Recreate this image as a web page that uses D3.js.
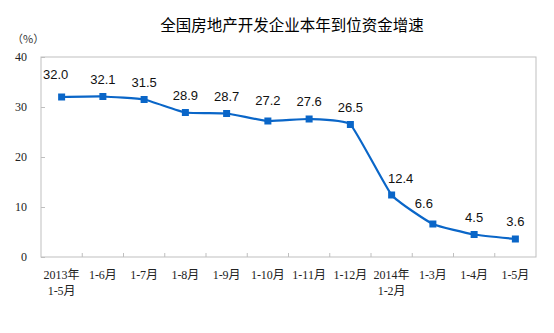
<!DOCTYPE html>
<html>
<head>
<meta charset="utf-8">
<script src="https://cdn.jsdelivr.net/npm/d3@7"></script>
<style>
  html, body { margin: 0; padding: 0; background: #fff; }
  svg { display: block; }
</style>
</head>
<body>
<svg id="chart" width="554" height="333"></svg>
<script>
// Period labels (two lines where the year is shown)
const categories = [
  ["2013年", "1-5月"], ["1-6月"], ["1-7月"], ["1-8月"], ["1-9月"], ["1-10月"],
  ["1-11月"], ["1-12月"], ["2014年", "1-2月"], ["1-3月"], ["1-4月"], ["1-5月"]
];
// Growth of funds in place (%)
const values = [32.0, 32.1, 31.5, 28.9, 28.7, 27.2, 27.6, 26.5, 12.4, 6.6, 4.5, 3.6];
const yTicks = [0, 10, 20, 30, 40];

const svg = d3.select("#chart");
const margin = { left: 41, right: 18, top: 57, bottom: 76 };
const W = 554, H = 333;
const x0 = margin.left, x1 = W - margin.right;
const y0 = H - margin.bottom, y1 = margin.top;

const x = d3.scaleBand().domain(d3.range(categories.length)).range([x0, x1]);
const y = d3.scaleLinear().domain([0, 40]).range([y0, y1]);

const serif = "'Liberation Serif','DejaVu Serif','Noto Sans CJK SC',serif";
const sans = "'Liberation Sans',Arial,'Noto Sans CJK SC',sans-serif";

// Title
svg.append("text")
  .attr("x", 292).attr("y", 31)
  .attr("text-anchor", "middle")
  .attr("font-family", "'Noto Sans CJK SC',sans-serif")
  .attr("font-size", 15.5)
  .attr("fill", "#000")
  .text("全国房地产开发企业本年到位资金增速");

// Unit
svg.append("text")
  .attr("x", 12).attr("y", 43)
  .attr("font-family", "'Noto Sans CJK SC',sans-serif")
  .attr("font-size", 11)
  .attr("fill", "#333")
  .text("（%）");

// Plot frame
svg.append("rect")
  .attr("x", x0).attr("y", y1)
  .attr("width", x1 - x0).attr("height", y0 - y1)
  .attr("fill", "none").attr("stroke", "#BFBFBF").attr("stroke-width", 1);

// Y axis
const yAxis = svg.append("g")
  .attr("transform", `translate(${x0},0)`)
  .call(d3.axisLeft(y).tickValues(yTicks).tickSizeInner(-4).tickSizeOuter(0).tickPadding(14));
yAxis.select(".domain").remove();
yAxis.selectAll(".tick line").attr("stroke", "#BFBFBF");
yAxis.selectAll(".tick text")
  .attr("font-family", serif).attr("font-size", 12).attr("fill", "#222");

// X axis: ticks between categories, pointing inward
const bounds = d3.range(1, categories.length).map(i => x(i));
svg.append("g").selectAll("line").data(bounds).join("line")
  .attr("x1", d => d).attr("x2", d => d)
  .attr("y1", y0).attr("y2", y0 - 4)
  .attr("stroke", "#BFBFBF");

const xl = svg.append("g").selectAll("text").data(categories).join("text")
  .attr("x", (d, i) => x(i) + x.bandwidth() / 2)
  .attr("y", 279)
  .attr("text-anchor", "middle")
  .attr("font-family", serif).attr("font-size", 12).attr("fill", "#222");
xl.selectAll("tspan").data(d => d).join("tspan")
  .attr("x", function () { return d3.select(this.parentNode).attr("x"); })
  .attr("dy", (d, j) => j === 0 ? 0 : 16)
  .text(d => d);

// Line (lightly smoothed)
const cx = i => x(i) + x.bandwidth() / 2;
const line = d3.line()
  .x((d, i) => cx(i))
  .y(d => y(d))
  .curve(d3.curveCardinal.tension(0.6));
svg.append("path")
  .datum(values)
  .attr("d", line)
  .attr("fill", "none")
  .attr("stroke", "#0A66C8")
  .attr("stroke-width", 2.2);

// Markers
svg.append("g").selectAll("rect").data(values).join("rect")
  .attr("x", (d, i) => cx(i) - 3.5)
  .attr("y", d => y(d) - 3.5)
  .attr("width", 7).attr("height", 7)
  .attr("fill", "#0A66C8");

// Value labels, with small nudges so they clear the line
const nudge = { 0: [-6, -5], 5: [0, -3], 8: [9, 1], 9: [-9, -3] };
svg.append("g").selectAll("text").data(values).join("text")
  .attr("x", (d, i) => cx(i) + (nudge[i] ? nudge[i][0] : 0))
  .attr("y", (d, i) => y(d) - 13 + (nudge[i] ? nudge[i][1] : 0))
  .attr("text-anchor", "middle")
  .attr("font-family", sans).attr("font-size", 13).attr("fill", "#111")
  .text(d => d.toFixed(1));
</script>
</body>
</html>
